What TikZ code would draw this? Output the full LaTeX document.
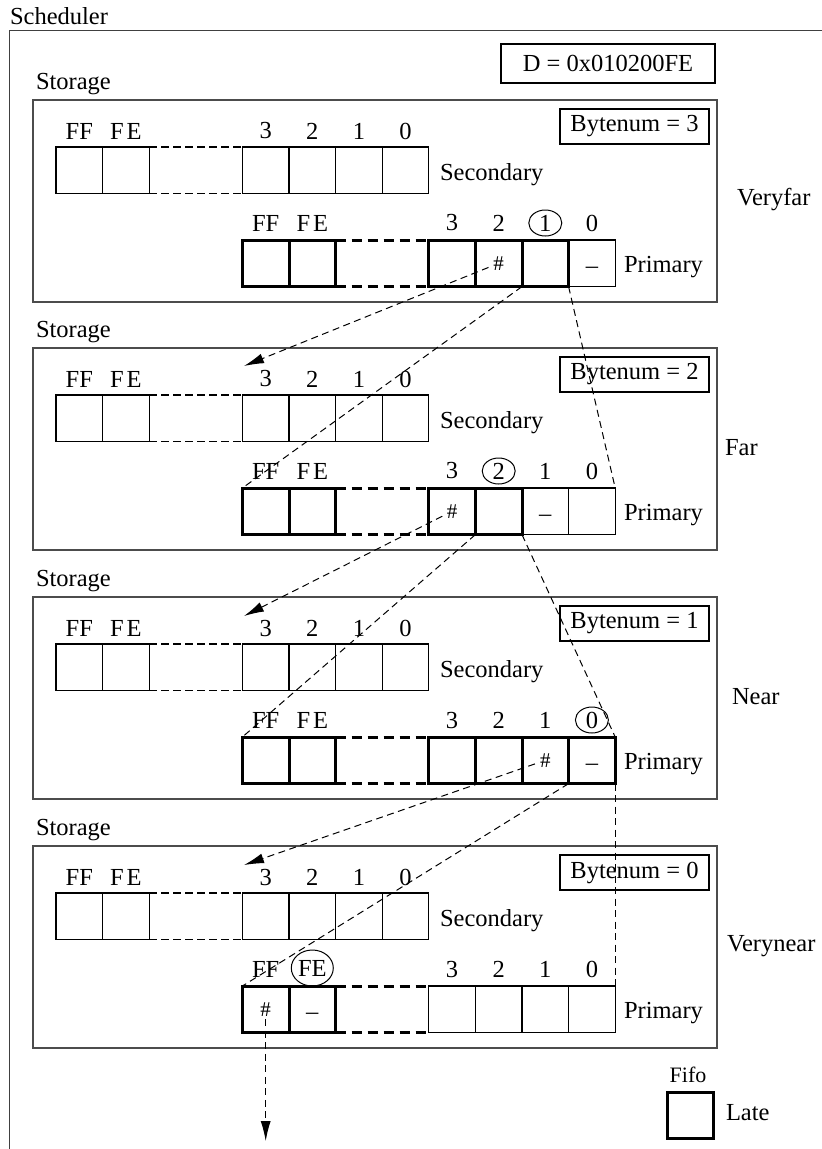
\documentclass[tikz,border=0pt]{standalone}
\usepackage{fontspec}
\setmainfont{Liberation Serif}
\usetikzlibrary{arrows.meta,shapes.geometric}
\newcommand\hashtxt{{\fontsize{21}{22}\selectfont\#}}
\newcommand\dashtxt{\smash{\raisebox{-10pt}{–}}}
\newcommand\spFE{F\kern3pt E}
\tikzset{
  every node/.style={inner sep=0pt, outer sep=0pt, font=\fontsize{24.5}{29}\selectfont},
  cellbase/.style={draw, minimum width=46.6pt, minimum height=46.6pt},
  thincell/.style={cellbase, line width=1.3pt},
  thickcell/.style={cellbase, line width=3pt},
  panelbox/.style={draw=black!70, line width=1.5pt, minimum width=684pt, minimum height=202pt},
  infobox/.style={draw, line width=1.3pt},
  secgap/.style={line width=1.3pt, dash pattern=on 8pt off 4pt},
  primgap/.style={line width=3pt, dash pattern=on 10pt off 6pt},
  conn/.style={line width=1pt, dash pattern=on 7pt off 4.5pt},
  headarrow/.style={-{Latex[length=20pt,width=10pt]}},
  circmark/.style={draw, ellipse, line width=1pt, minimum width=33pt, minimum height=26pt},
}
% #1 id, #2 top, #3 bytenum, #4 side label, #5 side label x
\newcommand\mkpanel[5]{%
  \node[panelbox, anchor=north west] (#1box) at (33,{#2}) {};
  \node[anchor=west] (#1stor) at (36,{#2-16}) {Storage};
  \node[infobox, minimum width=149pt, minimum height=35pt] (#1byte) at (634.5,{#2+26.5}) {Bytenum = #3};
  \node[anchor=west] (#1side) at ({#5},{#2+100}) {#4};
  \node[anchor=west] (#1sectxt) at (440,{#2+75}) {Secondary};
  \node[anchor=west] (#1primtxt) at (624,{#2+167}) {Primary};
  \foreach \n/\i/\t in {FF/0/FF,FE/1/\spFE,3/4/3,2/5/2,1/6/1,0/7/0}{
    \node[thincell] (#1s\n) at ({56+(\i+0.5)*46.6},{#2+70.3}) {};
    \node (#1sl\n) at ({56+(\i+0.5)*46.6},{#2+31}) {\t};
  }
  \draw[secgap] (#1sFE.north east) -- (#1s3.north west);
  \draw[secgap] (#1sFE.south east) -- (#1s3.south west);
  \foreach \n/\i in {FF/4,3/8,2/9,1/10,0/11}{
    \node (#1pl\n) at ({56+(\i+0.5)*46.6},{#2+123}) {\n};
  }
}
% #1 name, #2 index, #3 top, #4 style, #5 content
\newcommand\pcell[5]{\node[#4] (#1) at ({56+(#2+0.5)*46.6},{#3+163.3}) {#5};}
\newcommand\pgap[1]{%
  \draw[primgap] (#1pFE.north east) -- (#1p3.north west);
  \draw[primgap] (#1pFE.south east) -- (#1p3.south west);}
\begin{document}
\begin{tikzpicture}[x=1pt,y=-1pt]
\useasboundingbox (0,0) rectangle (822,1149);
% outer scheduler frame (continues past the page edges)
\node[anchor=west] (sched) at (10,16) {Scheduler};
\node[draw=black!75, line width=1.5pt, anchor=north west, minimum width=830pt, minimum height=1140pt] (frame) at (9.5,30.5) {};
\node[infobox, minimum width=214pt, minimum height=39pt] (dbox) at (608,63.5) {D = 0x010200FE};

% ---------- panel 1 ----------
\mkpanel{p1}{100}{3}{Veryfar}{737}
\node (p1plFE) at ({56+5.5*46.6},223) {\spFE};
\pcell{p1p0}{11}{100}{thincell}{\dashtxt}
\pcell{p1pFF}{4}{100}{thickcell}{}
\pcell{p1pFE}{5}{100}{thickcell}{}
\pcell{p1p3}{8}{100}{thickcell}{}
\pcell{p1p2}{9}{100}{thickcell}{\hashtxt}
\pcell{p1p1}{10}{100}{thickcell}{}
\pgap{p1}
\node[circmark] (p1circ) at (p1pl1) {};

% ---------- panel 2 ----------
\mkpanel{p2}{348}{2}{Far}{725}
\node (p2plFE) at ({56+5.5*46.6},471) {\spFE};
\pcell{p2p1}{10}{348}{thincell}{\dashtxt}
\pcell{p2p0}{11}{348}{thincell}{}
\pcell{p2pFF}{4}{348}{thickcell}{}
\pcell{p2pFE}{5}{348}{thickcell}{}
\pcell{p2p3}{8}{348}{thickcell}{\hashtxt}
\pcell{p2p2}{9}{348}{thickcell}{}
\pgap{p2}
\node[circmark] (p2circ) at (p2pl2) {};

% ---------- panel 3 ----------
\mkpanel{p3}{597}{1}{Near}{732}
\node (p3plFE) at ({56+5.5*46.6},720) {\spFE};
\pcell{p3pFF}{4}{597}{thickcell}{}
\pcell{p3pFE}{5}{597}{thickcell}{}
\pcell{p3p3}{8}{597}{thickcell}{}
\pcell{p3p2}{9}{597}{thickcell}{}
\pcell{p3p1}{10}{597}{thickcell}{\hashtxt}
\pcell{p3p0}{11}{597}{thickcell}{\dashtxt}
\pgap{p3}
\node[circmark] (p3circ) at (p3pl0) {};

% ---------- panel 4 ----------
\mkpanel{p4}{846}{0}{Verynear}{727}
\node (p4plFE) at ({56+5.5*46.6},968) {FE};
\pcell{p4p3}{8}{846}{thincell}{}
\pcell{p4p2}{9}{846}{thincell}{}
\pcell{p4p1}{10}{846}{thincell}{}
\pcell{p4p0}{11}{846}{thincell}{}
\pcell{p4pFF}{4}{846}{thickcell}{\hashtxt}
\pcell{p4pFE}{5}{846}{thickcell}{\dashtxt}
\pgap{p4}
\node[circmark, minimum width=42pt, minimum height=36pt] (p4circ) at (p4plFE) {};

% ---------- legend ----------
\node[font=\fontsize{22}{26}\selectfont] (fifo) at (688,1075) {Fifo};
\node[thickcell] (legend) at (690.5,1115.5) {};
\node[anchor=west] (late) at (726,1113) {Late};

% ---------- connectors ----------
\coordinate (tip2) at (244,366);
\coordinate (tip3) at (244,616);
\coordinate (tip4) at (244,865);
\coordinate (outtip) at ({56+4.5*46.6},1141);

\draw[conn, headarrow, shorten <=11pt] (p1p2.center) -- (tip2);
\draw[conn] (p1p1.south west) -- (p2pFF.north west);
\draw[conn] (p1p1.south east) -- (p2p0.north east);

\draw[conn, headarrow, shorten <=11pt] (p2p3.center) -- (tip3);
\draw[conn] (p2p2.south west) -- (p3pFF.north west);
\draw[conn] (p2p2.south east) -- (p3p0.north east);

\draw[conn, headarrow, shorten <=11pt] (p3p1.center) -- (tip4);
\draw[conn] (p3p0.south west) -- (p4pFF.north west);
\draw[conn] (p3p0.south east) -- (p4p0.north east);

\draw[conn, headarrow, shorten <=10pt] (p4pFF.center) -- (outtip);
\end{tikzpicture}
\end{document}
